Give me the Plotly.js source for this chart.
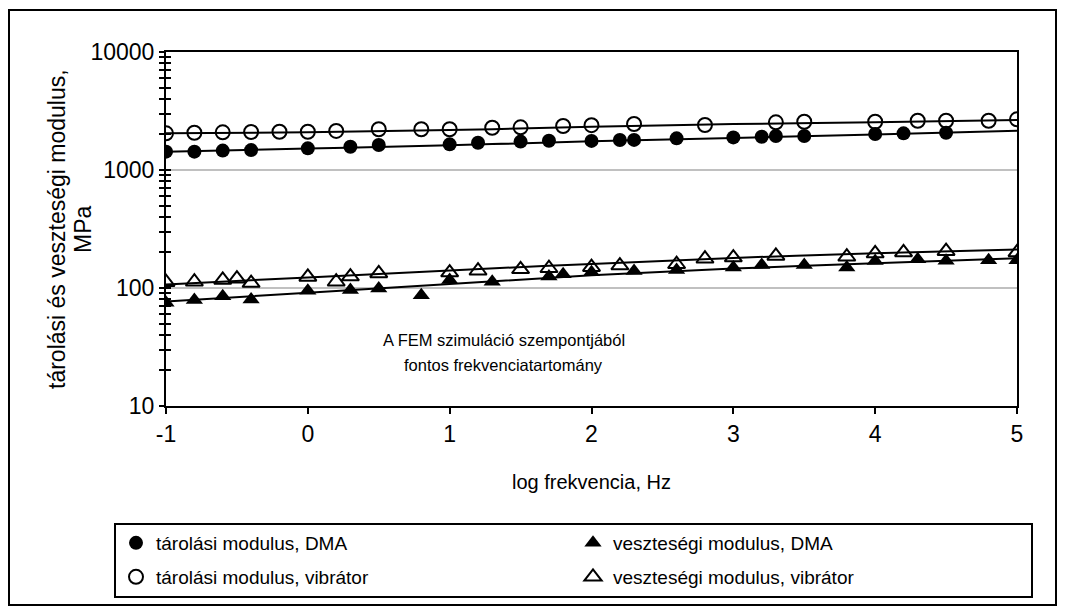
<!DOCTYPE html>
<html>
<head>
<meta charset="utf-8">
<script src="https://cdn.plot.ly/plotly-3.0.1.min.js"></script>
<style>
  html, body { margin: 0; padding: 0; background: #fff; }
  #chart { width: 1066px; height: 614px; }
</style>
</head>
<body>
<div id="chart"></div>
<script>
// ---- data ----
const storageDmaX = [-1, -0.8, -0.6, -0.4, 0, 0.3, 0.5, 1.0, 1.2, 1.5, 1.7, 2.0, 2.2, 2.3, 2.6, 3.0, 3.2, 3.3, 3.5, 4.0, 4.2, 4.5];
const storageDmaY = [1430, 1430, 1460, 1475, 1525, 1575, 1630, 1650, 1700, 1740, 1770, 1765, 1795, 1800, 1855, 1890, 1915, 1940, 1940, 2020, 2045, 2070];

const storageVibX = [-1, -0.8, -0.6, -0.4, -0.2, 0, 0.2, 0.5, 0.8, 1.0, 1.3, 1.5, 1.8, 2.0, 2.3, 2.8, 3.3, 3.5, 4.0, 4.3, 4.5, 4.8, 5.0];
const storageVibY = [2045, 2070, 2085, 2100, 2110, 2110, 2145, 2215, 2215, 2215, 2280, 2300, 2360, 2400, 2455, 2405, 2535, 2565, 2565, 2615, 2615, 2615, 2690];

const lossDmaX = [-1, -0.8, -0.6, -0.4, 0, 0.3, 0.5, 0.8, 1.0, 1.3, 1.7, 1.8, 2.0, 2.3, 2.6, 3.0, 3.2, 3.5, 3.8, 4.0, 4.3, 4.5, 4.8, 5.0];
const lossDmaY = [75, 79, 85, 80, 95, 96, 99, 87, 117, 113, 125, 131, 136, 139, 142, 149, 157, 157, 149, 169, 175, 170, 172, 172];

const lossVibX = [-1, -0.8, -0.6, -0.5, -0.4, 0, 0.2, 0.3, 0.5, 1.0, 1.2, 1.5, 1.7, 2.0, 2.2, 2.6, 2.8, 3.0, 3.3, 3.8, 4.0, 4.2, 4.5, 5.0];
const lossVibY = [112, 113, 117, 120, 110, 124, 113, 125, 133, 135, 140, 144, 147, 150, 155, 159, 177, 181, 187, 184, 196, 200, 205, 200];

// trend lines
const trendX = [-1, 0, 1, 2, 3, 4, 5];
const trendStorageDma = [1430, 1520, 1620, 1750, 1870, 2000, 2150];
const trendStorageVib = [2050, 2085, 2180, 2320, 2450, 2540, 2650];
const trendLossDma = [77, 91, 108, 128, 146, 162, 179];
const trendLossVib = [107, 123, 141, 160, 180, 197, 212];

const yTickVals = [10, 100, 1000, 10000];
const yTickText = ['10', '100', '1000', '10000'];
const yMinorVals = [20,30,40,50,60,70,80,90,200,300,400,500,600,700,800,900,2000,3000,4000,5000,6000,7000,8000,9000];
const xTickVals = [-1, 0, 1, 2, 3, 4, 5];

const names = [
  'tárolási modulus, DMA',
  'veszteségi modulus, DMA',
  'tárolási modulus, vibrátor',
  'veszteségi modulus, vibrátor'
];
const yTitleLines = ['tárolási és veszteségi modulus,', 'MPa'];
const noteLines = ['A FEM szimuláció szempontjából', 'fontos frekvenciatartomány'];

const FONT = 'Liberation Sans, Arial, sans-serif';

function trend(y) {
  return { x: trendX, y: y, mode: 'lines', line: { color: '#000', width: 2, shape: 'spline' },
           showlegend: false, hoverinfo: 'skip' };
}

const traces = [
  trend(trendStorageDma), trend(trendStorageVib), trend(trendLossDma), trend(trendLossVib),
  { x: storageDmaX, y: storageDmaY, mode: 'markers', name: names[0], legend: 'legend',
    marker: { symbol: 'circle', size: 14, color: '#000' } },
  { x: lossDmaX, y: lossDmaY, mode: 'markers', name: names[1], legend: 'legend2',
    marker: { symbol: 'triangle-up', size: 15, color: '#000' } },
  { x: storageVibX, y: storageVibY, mode: 'markers', name: names[2], legend: 'legend3',
    marker: { symbol: 'circle-open', size: 14, color: '#000', line: { width: 2, color: '#000' } } },
  { x: lossVibX, y: lossVibY, mode: 'markers', name: names[3], legend: 'legend4',
    marker: { symbol: 'triangle-up-open', size: 15, color: '#000', line: { width: 2, color: '#000' } } },
  { x: [0], y: [100], yaxis: 'y2', mode: 'markers', marker: { opacity: 0 }, showlegend: false, hoverinfo: 'skip' }
];

const L = 166, R = 1017, T = 52, B = 406;
const px = v => (v - L) / (R - L);
const py = v => (B - v) / (B - T);

function legendAt(xpx, ypx) {
  return { x: px(xpx), y: py(ypx), xanchor: 'left', yanchor: 'middle', orientation: 'h',
           bgcolor: 'rgba(0,0,0,0)', borderwidth: 0, itemwidth: 30,
           font: { family: FONT, size: 19, color: '#000' } };
}

const layout = {
  width: 1066, height: 614,
  margin: { l: L, r: 1066 - R, t: T, b: 614 - B },
  paper_bgcolor: '#fff', plot_bgcolor: '#fff',
  font: { family: FONT, size: 20, color: '#000' },
  xaxis: {
    range: [-1, 5], tickmode: 'array', tickvals: xTickVals, ticktext: xTickVals.map(String),
    showgrid: false, zeroline: false, showline: true, linecolor: '#000', linewidth: 2, mirror: true,
    ticks: 'outside', ticklen: 6, tickwidth: 2, tickcolor: '#000',
    tickfont: { family: FONT, size: 23 },
    title: { text: 'log frekvencia, Hz', font: { family: FONT, size: 20 }, standoff: 29 }
  },
  yaxis: {
    type: 'log', range: [1, 4], tickmode: 'array', tickvals: yTickVals, ticktext: yTickText,
    showgrid: true, gridcolor: '#c0c0c0', gridwidth: 2, zeroline: false,
    showline: true, linecolor: '#000', linewidth: 2, mirror: true,
    ticks: 'outside', ticklen: 5, tickwidth: 2, tickcolor: '#000',
    tickfont: { family: FONT, size: 23 },
    minor: { tickmode: 'array', tickvals: yMinorVals, ticks: 'outside', ticklen: 5, tickwidth: 2, tickcolor: '#000', showgrid: false }
  },
  yaxis2: {
    type: 'log', range: [1, 4], overlaying: 'y', side: 'left', anchor: 'x',
    tickmode: 'array', tickvals: yTickVals, showticklabels: false, showgrid: false, zeroline: false, showline: false,
    ticks: 'inside', ticklen: 5, tickwidth: 2, tickcolor: '#000',
    minor: { tickmode: 'array', tickvals: yMinorVals, ticks: 'inside', ticklen: 5, tickwidth: 2, tickcolor: '#000', showgrid: false }
  },
  legend: legendAt(116, 543),
  legend2: legendAt(573, 543),
  legend3: legendAt(116, 577),
  legend4: legendAt(573, 577),
  shapes: [
    { type: 'rect', xref: 'paper', yref: 'paper', x0: px(9), x1: px(1056), y0: py(605), y1: py(10),
      line: { color: '#000', width: 2 }, fillcolor: 'rgba(0,0,0,0)', layer: 'below' },
    { type: 'rect', xref: 'paper', yref: 'paper', x0: px(115), x1: px(1032), y0: py(597), y1: py(524),
      line: { color: '#000', width: 2 }, fillcolor: 'rgba(0,0,0,0)' }
  ],
  annotations: [
    { xref: 'paper', yref: 'paper', x: px(57), y: 0.5, textangle: -90, showarrow: false,
      xanchor: 'center', yanchor: 'middle', text: yTitleLines[0], font: { family: FONT, size: 23, color: '#000' } },
    { xref: 'paper', yref: 'paper', x: px(83), y: 0.5, textangle: -90, showarrow: false,
      xanchor: 'center', yanchor: 'middle', text: yTitleLines[1], font: { family: FONT, size: 23, color: '#000' } },
    { xref: 'x', yref: 'paper', x: 1.38, y: py(340), showarrow: false, yanchor: 'middle',
      text: noteLines[0], font: { family: FONT, size: 16.5, color: '#000' } },
    { xref: 'x', yref: 'paper', x: 1.38, y: py(365), showarrow: false, yanchor: 'middle',
      text: noteLines[1], font: { family: FONT, size: 16.5, color: '#000' } }
  ]
};

Plotly.newPlot('chart', traces, layout, { staticPlot: true, displayModeBar: false });
</script>
</body>
</html>
